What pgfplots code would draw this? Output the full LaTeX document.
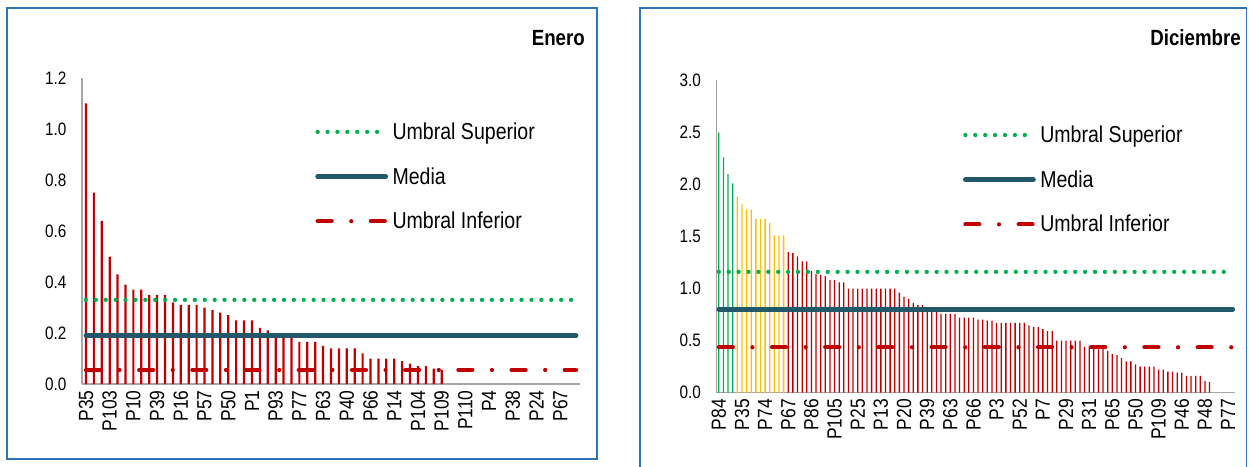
\documentclass[border=0pt]{standalone}
\usepackage{fontspec}
\setmainfont[FakeStretch=0.85]{Liberation Sans}
\usepackage{pgfplots}
\pgfplotsset{compat=1.18}
\usepackage{pgfplotstable}

\definecolor{barred}{HTML}{C00000}
\definecolor{bargreen}{HTML}{00B050}
\definecolor{baryellow}{HTML}{FFC000}
\definecolor{supgreen}{HTML}{00B050}
\definecolor{mediablue}{HTML}{215968}
\definecolor{infred}{HTML}{C00000}
\definecolor{axisgray}{HTML}{A6A6A6}
\definecolor{boxblue}{HTML}{2E75B6}

\pgfplotstableread{
x y
0 1.10
1 0.75
2 0.64
3 0.50
4 0.43
5 0.39
6 0.37
7 0.37
8 0.35
9 0.35
10 0.35
11 0.32
12 0.31
13 0.31
14 0.31
15 0.30
16 0.29
17 0.28
18 0.27
19 0.25
20 0.25
21 0.25
22 0.22
23 0.21
24 0.18
25 0.18
26 0.18
27 0.165
28 0.165
29 0.165
30 0.15
31 0.14
32 0.14
33 0.14
34 0.14
35 0.12
36 0.10
37 0.10
38 0.10
39 0.10
40 0.09
41 0.08
42 0.07
43 0.07
44 0.06
45 0.055
}\eneroTable

\pgfplotstableread{
x y
0 2.50
1 2.26
2 2.10
3 2.01
}\dicGreen

\pgfplotstableread{
x y
4 1.88
5 1.81
6 1.76
7 1.76
8 1.67
9 1.67
10 1.67
11 1.63
12 1.51
13 1.51
14 1.51
}\dicYellow

\pgfplotstableread{
x y
15 1.35
16 1.34
17 1.31
18 1.26
19 1.26
20 1.17
21 1.14
22 1.13
23 1.12
24 1.08
25 1.08
26 1.06
27 1.06
28 1.00
29 1.00
30 1.00
31 1.00
32 1.00
33 1.00
34 1.00
35 1.00
36 1.00
37 1.00
38 1.00
39 0.96
40 0.92
41 0.90
42 0.86
43 0.84
44 0.84
45 0.82
46 0.81
47 0.78
48 0.755
49 0.755
50 0.755
51 0.755
52 0.72
53 0.72
54 0.72
55 0.72
56 0.70
57 0.70
58 0.69
59 0.69
60 0.67
61 0.67
62 0.67
63 0.67
64 0.67
65 0.67
66 0.67
67 0.645
68 0.63
69 0.63
70 0.61
71 0.59
72 0.59
73 0.50
74 0.50
75 0.50
76 0.50
77 0.50
78 0.50
79 0.44
80 0.44
81 0.44
82 0.44
83 0.44
84 0.40
85 0.37
86 0.36
87 0.33
88 0.30
89 0.30
90 0.27
91 0.25
92 0.25
93 0.25
94 0.25
95 0.22
96 0.22
97 0.20
98 0.20
99 0.19
100 0.19
101 0.16
102 0.16
103 0.16
104 0.16
105 0.11
106 0.10
}\dicRed

\pgfplotsset{
  panel/.style={
    scale only axis,
    enlargelimits=false,
    axis x line*=bottom, axis y line*=left,
    axis line style={axisgray, line width=1.6pt},
    major tick length=0pt,
    tick style={draw=none},
    ymin=0,
    clip=false,
    yticklabel style={font=\fontsize{18}{18}\selectfont, /pgf/number format/.cd, fixed, fixed zerofill, precision=1, assume math mode=true},
    yticklabel shift=12pt,
    xticklabel style={font=\fontsize{20.5}{20.5}\selectfont, rotate=90, anchor=east},
    xticklabel shift=3pt,
    legend style={draw=none, fill=none, font=\fontsize{23}{23}\selectfont,
      legend cell align=left, row sep=22.5pt, anchor=west, inner sep=0pt},
    legend image code/.code={\draw[#1] (2pt,0pt) -- (70pt,0pt); \path (72.5pt,0pt);},
  },
  sup/.style={supgreen, line width=4.3pt, line cap=round, dash pattern=on 0pt off 9.9pt},
  med/.style={mediablue, line width=4.8pt, line cap=round},
  inf/.style={infred, line width=4.2pt, line cap=round, dash pattern=on 14pt off 19.6pt on 0pt off 19.6pt},
}

\begin{document}
\begin{tikzpicture}
\path[use as bounding box] (0pt,0pt) rectangle (1249pt,466pt);
\draw[boxblue, line width=1.8pt] (7pt,7pt) rectangle (597pt,458pt);
\draw[boxblue, line width=1.8pt] (640pt,-10pt) -- (640pt,458pt) -- (1246.5pt,458pt) -- (1246.5pt,-10pt);

\begin{axis}[panel,
  at={(82pt,82pt)}, anchor=south west, width=498pt, height=306pt,
  xmin=-0.5, xmax=62.5, ymax=1.2,
  ytick={0,0.2,...,1.2},
  xtick={0,3,...,60},
  xticklabels={P35,P103,P10,P39,P16,P57,P50,P1,P93,P77,P63,P40,P66,P14,P104,P109,P110,P4,P38,P24,P67},
  legend style={at={(0.468,0.678)}},
]
\addplot[ybar, bar width=2.2pt, bar shift=0pt, fill=barred, draw=none, forget plot] table[x=x,y=y] {\eneroTable};
\addplot[sup] coordinates {(0,0.33) (62,0.33)};
\addlegendentry{Umbral Superior}
\addplot[med] coordinates {(0,0.19) (62,0.19)};
\addlegendentry{Media}
\addplot[inf] coordinates {(0,0.055) (62,0.055)};
\addlegendentry{Umbral Inferior}
\end{axis}
\node[anchor=base east, inner sep=0pt, font=\bfseries\fontsize{22}{22}\selectfont] at (585pt,420pt) {Enero};

\begin{axis}[panel,
  at={(716.5pt,73.5pt)}, anchor=south west, width=518.5pt, height=312pt,
  xmin=-0.5, xmax=111.5, ymax=3,
  ytick={0,0.5,...,3.0},
  xtick={0,5,...,110},
  xticklabels={P84,P35,P74,P67,P86,P105,P25,P13,P20,P39,P63,P66,P3,P52,P7,P29,P31,P65,P50,P109,P46,P48,P77},
  legend style={at={(0.475,0.682)}},
]
\addplot[ybar, bar width=1.3pt, bar shift=0pt, fill=bargreen, draw=none, forget plot] table[x=x,y=y] {\dicGreen};
\addplot[ybar, bar width=1.3pt, bar shift=0pt, fill=baryellow, draw=none, forget plot] table[x=x,y=y] {\dicYellow};
\addplot[ybar, bar width=1.3pt, bar shift=0pt, fill=barred, draw=none, forget plot] table[x=x,y=y] {\dicRed};
\addplot[sup] coordinates {(0,1.16) (111,1.16)};
\addlegendentry{Umbral Superior}
\addplot[med] coordinates {(0,0.80) (111,0.80)};
\addlegendentry{Media}
\addplot[inf] coordinates {(0,0.435) (111,0.435)};
\addlegendentry{Umbral Inferior}
\end{axis}
\node[anchor=base east, inner sep=0pt, font=\bfseries\fontsize{22}{22}\selectfont] at (1241pt,420pt) {Diciembre};
\end{tikzpicture}
\end{document}
